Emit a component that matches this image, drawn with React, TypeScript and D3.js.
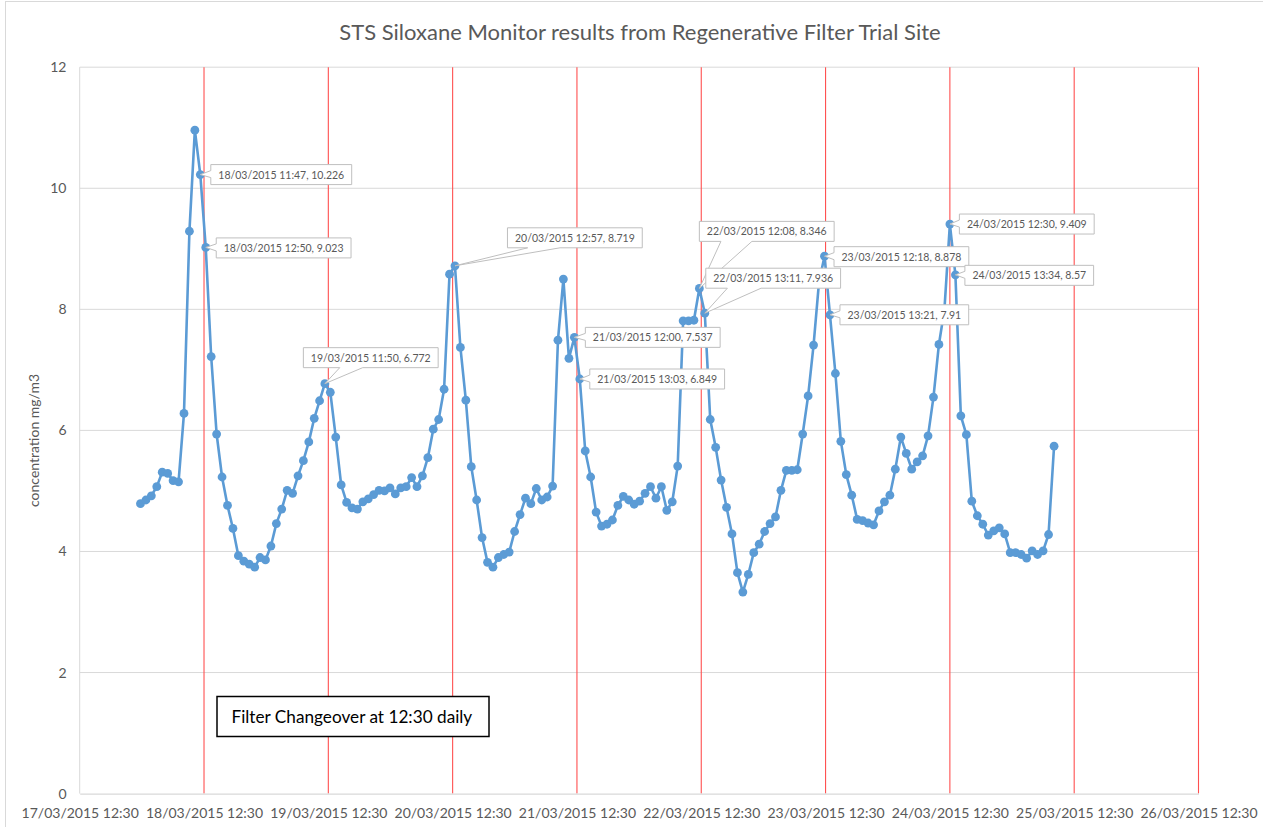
import { useRef, useEffect } from 'react'
import * as d3 from 'd3'

const sampleTimes = [
  '18/03 00:14', '18/03 01:17', '18/03 02:20', '18/03 03:23', '18/03 04:26', '18/03 05:29',
  '18/03 06:32', '18/03 07:35', '18/03 08:38', '18/03 09:41', '18/03 10:44', '18/03 11:47',
  '18/03 12:50', '18/03 13:53', '18/03 14:56', '18/03 15:59', '18/03 17:02', '18/03 18:05',
  '18/03 19:08', '18/03 20:11', '18/03 21:14', '18/03 22:17', '18/03 23:19', '19/03 00:22',
  '19/03 01:25', '19/03 02:28', '19/03 03:30', '19/03 04:33', '19/03 05:36', '19/03 06:39',
  '19/03 07:41', '19/03 08:44', '19/03 09:47', '19/03 10:49', '19/03 11:50',
  '19/03 12:53', '19/03 13:56', '19/03 14:59', '19/03 16:02', '19/03 17:04', '19/03 18:07',
  '19/03 19:10', '19/03 20:13', '19/03 21:15', '19/03 22:18', '19/03 23:21', '20/03 00:24',
  '20/03 01:26', '20/03 02:29', '20/03 03:32', '20/03 04:35', '20/03 05:37', '20/03 06:40',
  '20/03 07:43', '20/03 08:46', '20/03 09:48', '20/03 10:51', '20/03 11:54', '20/03 12:57',
  '20/03 14:00', '20/03 15:03', '20/03 16:06', '20/03 17:08', '20/03 18:11', '20/03 19:14',
  '20/03 20:17', '20/03 21:20', '20/03 22:22', '20/03 23:25', '21/03 00:28', '21/03 01:31',
  '21/03 02:34', '21/03 03:36', '21/03 04:39', '21/03 05:42', '21/03 06:45', '21/03 07:48',
  '21/03 08:50', '21/03 09:53', '21/03 10:57', '21/03 12:00', '21/03 13:03',
  '21/03 14:06', '21/03 15:09', '21/03 16:12', '21/03 17:15', '21/03 18:18', '21/03 19:21',
  '21/03 20:24', '21/03 21:27', '21/03 22:30', '21/03 23:33', '22/03 00:36', '22/03 01:39',
  '22/03 02:42', '22/03 03:45', '22/03 04:48', '22/03 05:51', '22/03 06:54', '22/03 07:57',
  '22/03 09:00', '22/03 10:03', '22/03 11:05', '22/03 12:08', '22/03 13:11',
  '22/03 14:14', '22/03 15:17', '22/03 16:20', '22/03 17:23', '22/03 18:26', '22/03 19:29',
  '22/03 20:32', '22/03 21:35', '22/03 22:38', '22/03 23:41', '23/03 00:44', '23/03 01:47',
  '23/03 02:50', '23/03 03:53', '23/03 04:56', '23/03 05:59', '23/03 07:02', '23/03 08:05',
  '23/03 09:08', '23/03 10:11', '23/03 11:14', '23/03 12:18', '23/03 13:21',
  '23/03 14:24', '23/03 15:27', '23/03 16:30', '23/03 17:33', '23/03 18:36', '23/03 19:39',
  '23/03 20:43', '23/03 21:46', '23/03 22:49', '23/03 23:52', '24/03 00:55', '24/03 01:58',
  '24/03 03:02', '24/03 04:05', '24/03 05:08', '24/03 06:11', '24/03 07:14', '24/03 08:17',
  '24/03 09:20', '24/03 10:23', '24/03 11:27', '24/03 12:30', '24/03 13:34',
  '24/03 14:37', '24/03 15:41', '24/03 16:44', '24/03 17:48', '24/03 18:51', '24/03 19:55',
  '24/03 20:58', '24/03 22:02', '24/03 23:05', '25/03 00:09', '25/03 01:12', '25/03 02:16',
  '25/03 03:19', '25/03 04:23', '25/03 05:26', '25/03 06:30', '25/03 07:33', '25/03 08:37',
]

// siloxane concentration, mg/m3
const concentration = [
  4.79, 4.85, 4.92, 5.07, 5.31, 5.29, 5.17, 5.15, 6.28, 9.29, 10.96, 10.226,
  9.023, 7.22, 5.94, 5.23, 4.76, 4.38, 3.93, 3.84, 3.79, 3.74, 3.9, 3.86,
  4.09, 4.46, 4.7, 5.01, 4.96, 5.25, 5.5, 5.81, 6.2, 6.49, 6.772,
  6.63, 5.89, 5.1, 4.81, 4.72, 4.7, 4.82, 4.87, 4.94, 5.01, 5.0, 5.05,
  4.95, 5.05, 5.07, 5.22, 5.07, 5.25, 5.55, 6.02, 6.18, 6.68, 8.58, 8.719,
  7.37, 6.5, 5.4, 4.85, 4.23, 3.82, 3.74, 3.9, 3.95, 3.99, 4.33, 4.61,
  4.88, 4.79, 5.04, 4.85, 4.9, 5.08, 7.49, 8.5, 7.19, 7.537, 6.849,
  5.66, 5.23, 4.65, 4.42, 4.45, 4.52, 4.76, 4.91, 4.85, 4.78, 4.83, 4.96,
  5.07, 4.88, 5.07, 4.68, 4.82, 5.41, 7.81, 7.81, 7.82, 8.346, 7.936,
  6.18, 5.72, 5.18, 4.73, 4.29, 3.65, 3.33, 3.62, 3.98, 4.12, 4.33, 4.46,
  4.57, 5.01, 5.34, 5.34, 5.35, 5.94, 6.57, 7.41, 8.45, 8.878, 7.91,
  6.94, 5.82, 5.27, 4.93, 4.53, 4.51, 4.47, 4.44, 4.67, 4.82, 4.93, 5.36,
  5.89, 5.62, 5.36, 5.48, 5.58, 5.91, 6.55, 7.42, 8.0, 9.409, 8.57,
  6.24, 5.93, 4.83, 4.59, 4.45, 4.27, 4.34, 4.39, 4.29, 3.98, 3.98, 3.95,
  3.89, 4.01, 3.95, 4.01, 4.28, 5.74,
]

const xTicks = [
  '17/03 12:30', '18/03 12:30', '19/03 12:30', '20/03 12:30', '21/03 12:30',
  '22/03 12:30', '23/03 12:30', '24/03 12:30', '25/03 12:30', '26/03 12:30',
]
const changeovers = [
  '18/03 12:30', '19/03 12:30', '20/03 12:30', '21/03 12:30', '22/03 12:30',
  '23/03 12:30', '24/03 12:30', '25/03 12:30', '26/03 12:30',
]
const yTicks = [0, 2, 4, 6, 8, 10, 12]

// which samples carry a data callout
const calloutIndex = [11, 12, 34, 58, 80, 81, 103, 104, 126, 127, 149, 150]
// where each callout box sits relative to its point
const calloutLayout = [
  { side: 'left', dx: 10.5, dy: 0 },
  { side: 'left', dx: 10.5, dy: 0.5 },
  { side: 'bottom', dx: -21.5, dy: -16, base: [0.27, 0.44] },
  { side: 'bottom', dx: 52.5, dy: -18, base: [0.15, 0.39] },
  { side: 'left', dx: 11, dy: 0 },
  { side: 'left', dx: 10, dy: 0 },
  { side: 'bottom', dx: 0, dy: -47, base: [0.16, 0.39] },
  { side: 'bottom', dx: 1, dy: -25, base: [0.16, 0.41] },
  { side: 'left', dx: 9.5, dy: 0.5 },
  { side: 'left', dx: 10, dy: 0 },
  { side: 'left', dx: 9.5, dy: 0 },
  { side: 'left', dx: 9.5, dy: 0.5 },
]

const W = 1263
const H = 827
const FONT = 'Lato, "Open Sans", sans-serif'

const parse = (s: string) => d3.timeParse('%d/%m/%Y %H:%M')(s.replace(' ', '/2015 ')) as Date
const fmt = d3.timeFormat('%d/%m/%Y %H:%M')

export default function App() {
  const svgRef = useRef<SVGSVGElement>(null)

  useEffect(() => {
    if (!svgRef.current) return
    const svg = d3.select(svgRef.current)
    svg.selectAll('*').remove()

    const left = 79.7
    const right = 1198.5
    const top = 67.2
    const bottom = 793.6

    const times = sampleTimes.map(parse)
    const ticks = xTicks.map(parse)

    const x = d3.scaleTime().domain([ticks[0], ticks[ticks.length - 1]]).range([left, right])
    const y = d3.scaleLinear().domain([0, 12]).range([bottom, top])

    svg.append('rect').attr('width', W).attr('height', H).attr('fill', '#fff')
    // chart border
    svg.append('rect')
      .attr('x', 5.5).attr('y', 1.5).attr('width', W).attr('height', H)
      .attr('fill', 'none').attr('stroke', '#D9D9D9')

    // title
    svg.append('text')
      .attr('x', 640).attr('y', 40)
      .attr('text-anchor', 'middle')
      .attr('font-family', FONT).attr('font-size', 22).attr('fill', '#595959')
      .text('STS Siloxane Monitor results from Regenerative Filter Trial Site')

    // horizontal gridlines
    svg.append('g').selectAll('line')
      .data(yTicks.filter((d) => d > 0))
      .join('line')
      .attr('x1', left).attr('x2', right)
      .attr('y1', (d) => y(d)).attr('y2', (d) => y(d))
      .attr('stroke', '#D9D9D9')

    // left edge of the plot
    svg.append('line')
      .attr('x1', left).attr('x2', left).attr('y1', top).attr('y2', bottom)
      .attr('stroke', '#D9D9D9')

    // daily filter changeover lines
    svg.append('g').selectAll('line')
      .data(changeovers.map(parse))
      .join('line')
      .attr('x1', (d) => x(d)).attr('x2', (d) => x(d))
      .attr('y1', top).attr('y2', bottom)
      .attr('stroke', '#FF5050').attr('stroke-width', 1.1)

    // x axis
    const xAxis = d3.axisBottom(x)
      .tickValues(ticks)
      .tickSize(0)
      .tickPadding(14)
      .tickFormat((d) => fmt(d as Date))
    const gx = svg.append('g').attr('transform', `translate(0,${bottom})`).call(xAxis)
    gx.select('.domain').attr('stroke', '#D9D9D9').attr('stroke-width', 1.3)
    gx.selectAll('text')
      .attr('font-family', FONT).attr('font-size', 14).attr('fill', '#595959')

    // y tick labels
    svg.append('g').selectAll('text')
      .data(yTicks)
      .join('text')
      .attr('x', 66.5).attr('y', (d) => y(d) + 5)
      .attr('text-anchor', 'end')
      .attr('font-family', FONT).attr('font-size', 14).attr('fill', '#595959')
      .text((d) => d)

    // y axis title
    svg.append('text')
      .attr('transform', `translate(39,${(top + bottom) / 2 + 10}) rotate(-90)`)
      .attr('text-anchor', 'middle')
      .attr('font-family', FONT).attr('font-size', 14).attr('fill', '#595959')
      .text('concentration mg/m3')

    // series
    const pts = times.map((t, i) => ({ t, v: concentration[i] }))
    const line = d3.line<{ t: Date; v: number }>().x((d) => x(d.t)).y((d) => y(d.v))
    svg.append('path')
      .attr('d', line(pts) ?? '')
      .attr('fill', 'none').attr('stroke', '#5B9BD5')
      .attr('stroke-width', 2.6).attr('stroke-linejoin', 'round')
    svg.append('g').selectAll('circle')
      .data(pts)
      .join('circle')
      .attr('cx', (d) => x(d.t)).attr('cy', (d) => y(d.v))
      .attr('r', 4.4).attr('fill', '#5B9BD5')

    // data callouts
    const boxH = 20
    const pad = 7.5
    calloutIndex.forEach((idx, k) => {
      const lay = calloutLayout[k]
      const px = x(times[idx])
      const py = y(concentration[idx])
      const g = svg.append('g')
      const path = g.append('path')
      const txt = g.append('text')
        .attr('font-family', FONT).attr('font-size', 10.5).attr('fill', '#595959')
        .text(`${fmt(times[idx])}, ${concentration[idx]}`)
      const tw = (txt.node() as SVGTextElement).getComputedTextLength()
      const bw = tw + pad * 2
      const bx = px + lay.dx
      const by = lay.side === 'left' ? py + lay.dy - boxH / 2 : py + lay.dy - boxH
      txt.attr('x', bx + pad).attr('y', by + boxH / 2 + 4)
      let d: string
      if (lay.side === 'left') {
        const cy = by + boxH / 2
        d = `M${bx},${by}H${bx + bw}V${by + boxH}H${bx}V${cy + 3}L${px},${py}L${bx},${cy - 4}Z`
      } else {
        const b = lay.base as number[]
        const a1 = bx + bw * b[0]
        const a2 = bx + bw * b[1]
        d = `M${bx},${by}H${bx + bw}V${by + boxH}H${a2}L${px},${py}L${a1},${by + boxH}H${bx}Z`
      }
      path.attr('d', d).attr('fill', '#fff').attr('stroke', '#BFBFBF').attr('stroke-width', 1)
    })

    // note box
    svg.append('rect')
      .attr('x', 217).attr('y', 696.5).attr('width', 272).attr('height', 40)
      .attr('fill', '#fff').attr('stroke', '#000').attr('stroke-width', 1.5)
    svg.append('text')
      .attr('x', 231.5).attr('y', 722.5)
      .attr('font-family', FONT).attr('font-size', 17.2).attr('fill', '#000')
      .text('Filter Changeover at 12:30 daily')

    return () => {
      svg.selectAll('*').remove()
    }
  }, [])

  return (
    <svg
      ref={svgRef}
      width={W}
      height={H}
      style={{ position: 'absolute', left: 0, top: 0, display: 'block' }}
    />
  )
}
